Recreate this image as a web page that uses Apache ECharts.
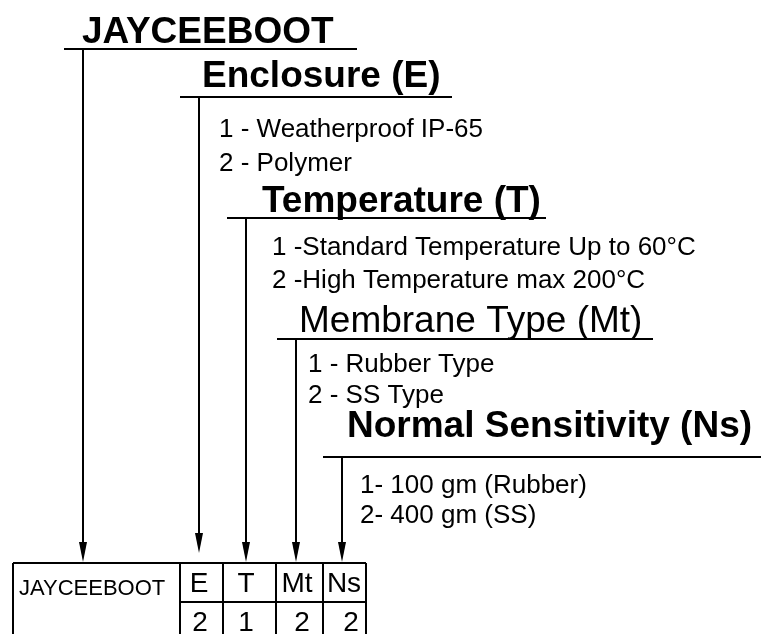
<!DOCTYPE html>
<html>
<head>
<meta charset="utf-8">
<title>JAYCEEBOOT ordering code</title>
<script src="https://cdn.jsdelivr.net/npm/echarts@6/dist/echarts.min.js"></script>
<style>
  html, body { margin: 0; padding: 0; background: #fff; }
  #main { width: 761px; height: 634px; }
</style>
</head>
<body>
<div id="main"></div>
<script>
  // content
  const modelName = 'JAYCEEBOOT'
  const sectionTitles = ['Enclosure (E)', 'Temperature (T)', 'Membrane Type (Mt)', 'Normal Sensitivity (Ns)']
  const sectionCodes = ['E', 'T', 'Mt', 'Ns']
  const enclosureOptions = ['1 - Weatherproof IP-65', '2 - Polymer']
  const temperatureOptions = ['1 -Standard Temperature Up to 60°C', '2 -High Temperature max 200°C']
  const membraneOptions = ['1 - Rubber Type', '2 - SS Type']
  const sensitivityOptions = ['1- 100 gm (Rubber)', '2- 400 gm (SS)']
  const selectedCodes = ['2', '1', '2', '2']

  // layout (axis units = pixels)
  const FONT = "'Liberation Sans', Arial, sans-serif"
  const levelLayout = [
    { x: 82, base: 43, bold: true, lineY: 49, x0: 64, x1: 357, stem: 83, tip: 562 },
    { x: 202, base: 87, bold: true, lineY: 97, x0: 180, x1: 452, stem: 199, tip: 553, optX: 219, optY: [137, 171] },
    { x: 262, base: 212, bold: true, lineY: 218, x0: 227, x1: 546, stem: 246, tip: 562, optX: 272, optY: [255, 288] },
    { x: 299, base: 332, bold: false, lineY: 339, x0: 277, x1: 653, stem: 296, tip: 562, optX: 308, optY: [372, 403] },
    { x: 347, base: 437, bold: true, lineY: 457, x0: 323, x1: 761, stem: 342, tip: 562, optX: 360, optY: [493, 523] }
  ]
  const tableLeft = 13, tableRight = 366, tableTop = 563, tableMid = 602, tableBottom = 660
  const colEdges = [180, 223, 276, 323]
  const headX = [199, 246, 297, 344]
  const valX = [200, 246, 302, 351]

  const titles = [modelName].concat(sectionTitles)
  const optionLists = [[], enclosureOptions, temperatureOptions, membraneOptions, sensitivityOptions]

  function renderDiagram(params, api) {
    const children = []
    const P = (x, y) => api.coord([x, y])
    const stroke = { stroke: '#000', lineWidth: 2 }
    const line = (a, b, c, d) => {
      const p = P(a, b), q = P(c, d)
      children.push({ type: 'line', shape: { x1: p[0], y1: p[1], x2: q[0], y2: q[1] }, style: stroke })
    }
    const text = (str, x, base, size, weight, align) => {
      const p = P(x, base - size * 0.27)
      children.push({
        type: 'text',
        style: {
          text: str, x: p[0], y: p[1], fill: '#000',
          font: weight + ' ' + size + 'px ' + FONT,
          align: align || 'left', verticalAlign: 'middle'
        }
      })
    }

    levelLayout.forEach((lv, i) => {
      text(titles[i], lv.x, lv.base, 37, lv.bold ? 'bold' : 'normal')
      line(lv.x0, lv.lineY, lv.x1, lv.lineY)
      line(lv.stem, lv.lineY, lv.stem, lv.tip - 18)
      const t = P(lv.stem, lv.tip), l = P(lv.stem - 4, lv.tip - 20), r = P(lv.stem + 4, lv.tip - 20)
      children.push({ type: 'polygon', shape: { points: [t, l, r] }, style: { fill: '#000' } })
      optionLists[i].forEach((o, j) => text(o, lv.optX, lv.optY[j], 26, 'normal'))
    })

    // code table
    line(tableLeft, tableTop, tableRight, tableTop)
    line(tableLeft, tableTop, tableLeft, tableBottom)
    line(tableRight, tableTop, tableRight, tableBottom)
    colEdges.forEach(x => line(x, tableTop, x, tableBottom))
    line(colEdges[0], tableMid, tableRight, tableMid)
    const c = P(19, 589)
    children.push({
      type: 'text',
      style: { text: modelName, x: c[0], y: c[1], fill: '#000', font: 'normal 22px ' + FONT, verticalAlign: 'middle' }
    })
    sectionCodes.forEach((s, i) => {
      const p = P(headX[i], 584)
      children.push({ type: 'text', style: { text: s, x: p[0], y: p[1], fill: '#000', font: 'normal 28px ' + FONT, align: 'center', verticalAlign: 'middle' } })
    })
    selectedCodes.forEach((s, i) => {
      const p = P(valX[i], 623)
      children.push({ type: 'text', style: { text: s, x: p[0], y: p[1], fill: '#000', font: 'normal 28px ' + FONT, align: 'center', verticalAlign: 'middle' } })
    })

    return { type: 'group', children }
  }

  const chart = echarts.init(document.getElementById('main'), null, { renderer: 'canvas' })
  chart.setOption({
    animation: false,
    backgroundColor: '#fff',
    grid: { left: 0, right: 0, top: 0, bottom: 0 },
    xAxis: { type: 'value', min: 0, max: 761, show: false },
    yAxis: { type: 'value', min: 0, max: 634, inverse: true, show: false },
    series: [{
      type: 'custom',
      coordinateSystem: 'cartesian2d',
      clip: false,
      silent: true,
      data: [[0, 0]],
      renderItem: renderDiagram
    }]
  })
</script>
</body>
</html>
